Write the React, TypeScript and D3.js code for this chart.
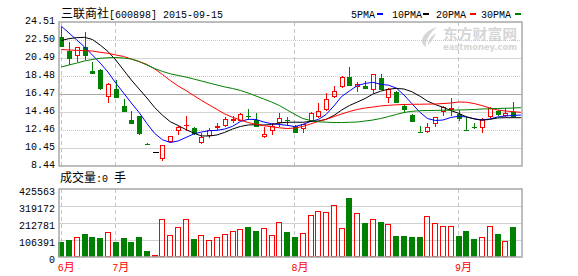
import React from 'react';
import * as d3 from 'd3';

// ---------- data ----------
const stockName = '三联商社';
const stockCode = '[600898] 2015-09-15';

const open = [22.80, 21.27, 20.72, 21.69, 19.04, 19.15, 16.17, 17.00, 15.14, 13.57, 14.02, 10.92, 9.97, 9.19, 11.12, 12.38, 12.87, 12.68, 10.97, 11.79, 12.68, 12.90, 13.46, 13.50, 14.02, 13.57, 11.71, 12.31, 13.21, 13.52, 12.90, 12.54, 13.50, 13.94, 14.69, 16.17, 17.29, 18.34, 17.22, 17.40, 16.92, 18.23, 16.06, 16.73, 15.14, 14.13, 12.20, 12.27, 13.13, 14.50, 14.69, 14.24, 12.42, 12.79, 12.65, 13.87, 14.61, 14.05, 14.50];
const close = [21.75, 20.35, 21.69, 20.75, 18.74, 17.03, 17.56, 16.06, 14.50, 13.16, 12.01, 10.86, 9.97, 10.78, 11.75, 12.76, 12.98, 12.01, 11.71, 12.46, 12.90, 13.65, 13.65, 14.21, 13.96, 12.76, 11.98, 12.90, 13.76, 13.41, 12.16, 13.13, 14.32, 14.58, 15.88, 16.81, 18.34, 17.40, 17.56, 17.03, 18.71, 16.92, 17.00, 15.50, 14.69, 13.38, 12.16, 12.83, 13.87, 14.99, 14.88, 13.65, 12.35, 12.74, 13.65, 14.88, 14.13, 14.32, 13.91];
const high = [23.92, 22.24, 21.72, 23.36, 20.08, 19.27, 17.65, 18.04, 15.92, 14.58, 14.05, 10.97, 9.97, 10.80, 11.84, 12.85, 14.02, 12.83, 12.16, 12.65, 13.21, 13.87, 14.02, 14.35, 14.77, 14.32, 12.83, 13.21, 14.32, 13.94, 12.96, 13.18, 14.50, 15.44, 16.62, 17.37, 18.48, 19.52, 17.85, 17.93, 18.76, 18.71, 17.14, 16.81, 15.25, 14.19, 12.85, 13.21, 13.91, 15.14, 16.00, 14.69, 13.94, 13.27, 13.76, 15.08, 14.69, 14.88, 15.53];
const low = [21.72, 19.71, 20.08, 20.27, 18.71, 16.92, 15.44, 16.03, 14.47, 13.13, 11.93, 10.82, 9.97, 9.03, 10.97, 11.90, 12.35, 11.87, 10.95, 11.60, 12.46, 12.76, 13.21, 13.46, 13.57, 12.74, 11.56, 11.90, 12.83, 12.90, 12.09, 12.16, 13.46, 13.85, 14.58, 16.03, 17.11, 17.37, 16.73, 16.98, 16.55, 16.87, 15.50, 15.47, 14.32, 13.35, 12.12, 12.16, 12.79, 14.02, 14.02, 13.46, 12.31, 12.54, 12.09, 13.80, 14.02, 13.96, 13.80];
const volume = [95800, 108000, 125000, 146000, 127000, 121000, 156000, 96000, 121000, 96000, 127000, 39600, 10000, 238000, 138000, 188000, 238000, 114500, 138000, 108000, 125000, 144000, 163000, 175000, 190000, 165000, 181500, 138000, 219000, 158000, 127000, 150000, 263000, 288000, 282000, 325000, 181500, 371000, 275000, 215000, 238000, 221000, 206500, 133000, 133000, 127000, 127000, 257000, 213000, 194000, 194000, 133000, 165000, 114500, 125000, 194000, 146000, 100000, 190000];

const ma5 = [24.06, 23.28, 22.50, 21.72, 20.83, 19.93, 18.93, 17.70, 16.59, 15.47, 14.41, 13.18, 12.07, 11.37, 11.06, 11.23, 11.62, 12.01, 12.23, 12.38, 12.42, 12.57, 12.87, 13.41, 13.65, 13.63, 13.35, 13.16, 13.07, 12.98, 12.84, 13.07, 13.41, 13.63, 14.19, 15.14, 16.20, 16.81, 17.42, 17.65, 17.78, 17.56, 17.46, 17.14, 16.36, 15.41, 14.47, 13.74, 13.52, 13.57, 13.85, 14.00, 13.91, 13.72, 13.57, 13.69, 13.91, 14.02, 14.08, 14.13];
const ma10 = [22.45, 22.65, 22.76, 22.80, 22.56, 21.94, 21.22, 20.27, 19.15, 18.04, 17.03, 16.03, 14.97, 14.10, 13.38, 12.96, 12.51, 12.12, 11.79, 11.79, 11.90, 12.20, 12.57, 12.85, 13.02, 13.04, 13.02, 13.06, 13.24, 13.32, 13.33, 13.32, 13.41, 13.46, 13.65, 14.08, 14.69, 15.19, 15.58, 15.97, 16.47, 16.79, 17.01, 17.10, 17.03, 16.73, 16.25, 15.69, 15.30, 14.99, 14.63, 14.32, 13.93, 13.69, 13.55, 13.64, 13.80, 13.83, 13.83, 13.83];
const ma20 = [21.44, 21.39, 21.35, 21.31, 21.27, 21.13, 21.02, 20.83, 20.66, 20.38, 20.10, 19.77, 19.27, 18.65, 17.98, 17.37, 16.87, 16.31, 15.77, 15.25, 14.75, 14.24, 13.87, 13.57, 13.29, 13.09, 12.94, 12.81, 12.70, 12.62, 12.68, 12.85, 13.13, 13.41, 13.65, 13.96, 14.24, 14.52, 14.75, 14.91, 15.02, 15.14, 15.21, 15.27, 15.30, 15.33, 15.33, 15.35, 15.36, 15.41, 15.47, 15.58, 15.56, 15.41, 15.19, 14.91, 14.69, 14.58, 14.50, 14.43];
const ma30 = [19.49, 19.71, 19.93, 20.16, 20.33, 20.46, 20.52, 20.55, 20.49, 20.38, 20.10, 19.71, 19.32, 18.99, 18.73, 18.54, 18.37, 18.15, 17.93, 17.70, 17.48, 17.26, 17.09, 16.87, 16.59, 16.25, 15.92, 15.58, 15.19, 14.69, 14.19, 13.74, 13.52, 13.37, 13.33, 13.29, 13.29, 13.32, 13.35, 13.46, 13.57, 13.74, 13.96, 14.19, 14.41, 14.54, 14.61, 14.63, 14.64, 14.66, 14.67, 14.69, 14.71, 14.75, 14.80, 14.82, 14.86, 14.88, 14.91, 14.95];

const priceTicks = ['24.51', '22.50', '20.49', '18.48', '16.47', '14.46', '12.46', '10.45', '8.44'];
const volumeTicks = ['425563', '319172', '212781', '106391', '0'];
const monthLabels = ['6', '7', '8', '9'];
const monthStarts = [0, 7, 30, 51];
const maNames = ['5PMA', '10PMA', '20PMA', '30PMA'];
const volumeTitle = '成交量';
const volumeNow = ':0 ';
const volumeUnit = '手';

// ---------- styles ----------
const RED = '#ff0000';
const GREEN = '#008000';
const BLUE = '#0000ff';
const BLACK = '#000000';
const maColors = [BLUE, BLACK, RED, GREEN];
const mono = "'Liberation Mono', 'DejaVu Sans Mono', monospace";
const cjk = "'Noto Sans CJK SC', 'Noto Sans', sans-serif";
const legendX = [351, 392, 436, 481];
const legendDashX = [377, 423, 470, 515];

export default function App() {
  const W = 578, H = 276;
  const left = 59, right = 522;
  const mainTop = 22, mainBottom = 166;
  const volTop = 189, volBottom = 257;
  const n = ma5.length;

  const x = d3.scaleLinear().domain([0, n - 1]).range([61.2, 520.9]);
  const yP = d3.scaleLinear()
    .domain([+priceTicks[priceTicks.length - 1], +priceTicks[0]])
    .range([mainBottom, mainTop]);
  const yV = d3.scaleLinear().domain([0, +volumeTicks[0]]).range([volBottom, volTop]);

  const mas = [ma5, ma10, ma20, ma30];
  const lineGen = d3.line<number>().x((_, i) => x(i)).y((v) => yP(v));

  const gridStyle = (k: number) => {
    if (k === 4) return { stroke: '#a8a8a8', dash: undefined };
    if (k === 1 || k === 3 || k === 6) return { stroke: '#c8c8c8', dash: '1 1' };
    return { stroke: '#d4d4d4', dash: undefined };
  };

  return (
    <svg
      width={W}
      height={H}
      style={{ position: 'absolute', left: 0, top: 0, background: '#fff' }}
      xmlns="http://www.w3.org/2000/svg"
    >
      <rect x={0} y={0} width={W} height={H} fill="#fff" />

      {/* watermark */}
      <g fill="#d6d6d6">
        <path d="M437 27 C429 29 422 35 422 41 C422 44 424 46 426 47 C425 41 429 34 437 27 Z" />
        <path d="M436 33 C431 36 428 40 428 45 C431 42 434 38 436 33 Z" />
        <text x={443} y={39} fontFamily={cjk} fontSize={14} fontWeight="bold" textLength={74} lengthAdjust="spacingAndGlyphs">东方财富网</text>
        <text x={443} y={50} fontFamily="'DejaVu Sans', sans-serif" fontSize={8} fontWeight="bold" textLength={74} lengthAdjust="spacingAndGlyphs">eastmoney.com</text>
      </g>

      {/* main grid */}
      {priceTicks.map((t, k) => {
        if (k === 0 || k === priceTicks.length - 1) return null;
        const yy = Math.round(yP(+t)) + 0.5;
        const st = gridStyle(k);
        return (
          <line key={'g' + k} x1={left} x2={right} y1={yy} y2={yy} stroke={st.stroke} strokeDasharray={st.dash} shapeRendering="crispEdges" />
        );
      })}
      {/* volume grid */}
      {volumeTicks.map((t, k) => {
        if (k === 0 || k === volumeTicks.length - 1) return null;
        const yy = Math.round(yV(+t)) + 0.5;
        return <line key={'vg' + k} x1={left} x2={right} y1={yy} y2={yy} stroke="#d0d0d0" shapeRendering="crispEdges" />;
      })}
      {/* month dashed lines */}
      {monthStarts.map((m, k) => {
        const xx = Math.floor(x(m)) + 0.5;
        return (
          <g key={'m' + k} stroke="#c4c4c4" strokeDasharray="4 3" shapeRendering="crispEdges">
            <line x1={xx} x2={xx} y1={mainTop} y2={mainBottom} />
            <line x1={xx} x2={xx} y1={volTop} y2={volBottom} />
          </g>
        );
      })}

      {/* candles */}
      {open.map((o, i) => {
        const c = close[i], h = high[i], l = low[i];
        const cx = Math.round(x(i));
        const yTop = Math.round(yP(Math.max(o, c)));
        const yBot = Math.round(yP(Math.min(o, c)));
        const yH = Math.round(yP(h));
        const yL = Math.round(yP(l));
        const wx = cx + 0.5;
        if (o === c && h === l) {
          return <line key={'c' + i} x1={cx - 2} x2={cx + 4} y1={yTop + 0.5} y2={yTop + 0.5} stroke={BLACK} shapeRendering="crispEdges" />;
        }
        if (c >= o) {
          if (yBot - yTop < 2) {
            return (
              <g key={'c' + i} shapeRendering="crispEdges">
                <line x1={wx} x2={wx} y1={yH} y2={Math.max(yL, yTop + 1)} stroke={RED} />
                <rect x={cx - 2} y={yTop} width={5} height={Math.max(yBot - yTop, 1)} fill={RED} />
              </g>
            );
          }
          return (
            <g key={'c' + i} shapeRendering="crispEdges" stroke={RED}>
              {yH < yTop && <line x1={wx} x2={wx} y1={yH} y2={yTop} />}
              {yL > yBot && <line x1={wx} x2={wx} y1={yBot} y2={yL} />}
              <rect x={cx - 1.5} y={yTop + 0.5} width={4} height={yBot - yTop - 1} fill="none" />
            </g>
          );
        }
        return (
          <g key={'c' + i} shapeRendering="crispEdges">
            <line x1={wx} x2={wx} y1={yH} y2={Math.max(yL, yBot)} stroke={GREEN} />
            <rect x={cx - 2} y={yTop} width={5} height={Math.max(yBot - yTop, 1)} fill={GREEN} />
          </g>
        );
      })}

      {/* moving averages */}
      {mas.map((arr, k) => (
        <path key={'ma' + k} d={lineGen(arr) || ''} fill="none" stroke={maColors[k]} strokeWidth={1} />
      ))}

      {/* volume bars */}
      {volume.map((v, i) => {
        const cx = Math.round(x(i));
        const yv = Math.round(yV(v));
        const up = close[i] >= open[i];
        if (up) {
          return (
            <rect key={'v' + i} x={cx - 2.5} y={Math.min(yv, volBottom - 2) + 0.5} width={5}
              height={Math.max(volBottom - yv - 1, 1)} fill="none" stroke={RED} shapeRendering="crispEdges" />
          );
        }
        return <rect key={'v' + i} x={cx - 3} y={yv} width={6} height={volBottom - yv} fill={GREEN} shapeRendering="crispEdges" />;
      })}

      {/* borders */}
      <rect x={left} y={mainTop} width={right - left} height={mainBottom - mainTop} fill="none" stroke="#a8a8a8" strokeWidth={1.5} />
      <rect x={left} y={volTop} width={right - left} height={volBottom - volTop} fill="none" stroke="#a8a8a8" strokeWidth={1.5} />

      {/* price axis labels */}
      {priceTicks.map((t, k) => (
        <text key={'pt' + k} x={55} y={yP(+t) + 2} textAnchor="end" fontFamily={mono} fontSize={10} fill="#000">{t}</text>
      ))}
      {/* volume axis labels */}
      {volumeTicks.map((t, k) => (
        <text key={'vt' + k} x={55} y={yV(+t) + 6} textAnchor="end" fontFamily={mono} fontSize={10} fill="#000">{t}</text>
      ))}

      {/* month labels */}
      {monthStarts.map((m, k) => (
        <text key={'ml' + k} x={x(m) - 3.5} y={271} fill={RED}>
          <tspan fontFamily={mono} fontSize={10}>{monthLabels[k]}</tspan>
          <tspan fontFamily={cjk} fontSize={11}>月</tspan>
        </text>
      ))}

      {/* title */}
      <text x={61} y={18} fill="#000">
        <tspan fontFamily={cjk} fontSize={12}>{stockName}</tspan>
        <tspan fontFamily={mono} fontSize={10}>{stockCode}</tspan>
      </text>

      {/* legend */}
      {maNames.map((name, k) => (
        <g key={'lg' + k}>
          <text x={legendX[k]} y={17.5} fontFamily={mono} fontSize={10} fill="#000">{name}</text>
          <rect x={legendDashX[k]} y={13} width={6} height={2} fill={maColors[k]} />
        </g>
      ))}

      {/* volume title */}
      <text x={60} y={182} fill="#000">
        <tspan fontFamily={cjk} fontSize={12}>{volumeTitle}</tspan>
        <tspan fontFamily={mono} fontSize={10}>{volumeNow}</tspan>
        <tspan fontFamily={cjk} fontSize={12}>{volumeUnit}</tspan>
      </text>
    </svg>
  );
}
